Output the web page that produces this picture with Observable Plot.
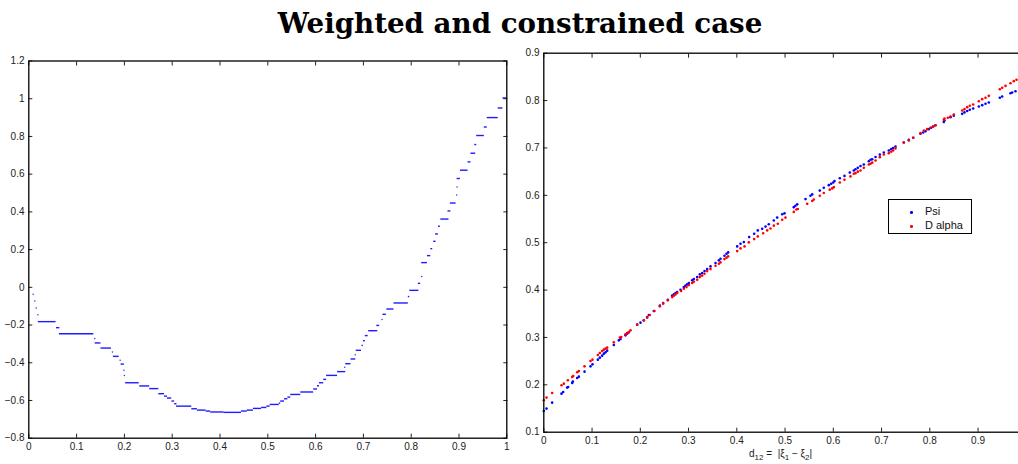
<!DOCTYPE html>
<html><head><meta charset="utf-8">
<script src="https://cdn.jsdelivr.net/npm/d3@7"></script>
<script src="https://cdn.jsdelivr.net/npm/@observablehq/plot@0.6"></script>
<style>
html,body{margin:0;padding:0;background:#fff;overflow:hidden}
#wrap{position:relative;width:1018px;height:464px;overflow:hidden;background:#fff}
#title{position:absolute;left:0;top:7px;width:1040px;text-align:center;font-family:"DejaVu Serif",serif;font-weight:bold;font-size:27.7px;color:#000;white-space:nowrap}
#left{position:absolute;left:0;top:40px;width:510px;height:424px}
#right{position:absolute;left:510px;top:40px;width:520px;height:424px}
#left svg,#right svg{max-width:none !important}
#xlabel{position:absolute;left:749px;top:448px;font-family:"Liberation Sans",Arial,sans-serif;font-size:10px;color:#222;white-space:nowrap}
#xlabel sub{font-size:8px;vertical-align:-3px;line-height:0}
#legend{position:absolute;left:888px;top:199px;width:82px;height:33px;border:1.3px solid #000;background:#fff;font-family:"Liberation Sans",Arial,sans-serif;font-size:11px;color:#111}
.li{position:absolute;left:36px}
.ld{position:absolute;left:21px;width:2.6px;height:2.6px;border-radius:50%}
</style></head>
<body><div id="wrap">
<div id="title">Weighted and constrained case</div>
<div id="left"></div>
<div id="right"></div>
<div id="xlabel">d<sub>12</sub> = &nbsp;|ξ<sub>1</sub> − ξ<sub>2</sub>|</div>
<div id="legend"></div>
</div>
<script>
// ---------- Left panel data ----------
const leftXTicks = [0,0.1,0.2,0.3,0.4,0.5,0.6,0.7,0.8,0.9,1];
const leftXLabels = ["0","0.1","0.2","0.3","0.4","0.5","0.6","0.7","0.8","0.9","1"];
const leftYTicks = [-0.8,-0.6,-0.4,-0.2,0,0.2,0.4,0.6,0.8,1,1.2];
const leftYLabels = ["−0.8","−0.6","−0.4","−0.2","0","0.2","0.4","0.6","0.8","1","1.2"];

// staircase pieces: start x, end x, level
const segX1 = [0.020,0.058,0.064,0.139,0.151,0.177,0.193,0.2025,0.232,0.253,0.272,0.284,0.290,0.2995,0.305,0.309,0.341,0.353,0.371,0.3805,0.408,0.445,0.457,0.470,0.487,0.498,0.505,0.524,0.527,0.535,0.542,0.548,0.569,0.596,0.604,0.608,0.617,0.623,0.646,0.663,0.674,0.685,0.697,0.700,0.704,0.711,0.728,0.741,0.749,0.764,0.794,0.797,0.815,0.822,0.834,0.841,0.847,0.851,0.857,0.862,0.877,0.882,0.896,0.903,0.919,0.925,0.933,0.937,0.953,0.959,0.982,0.992];
const segX2 = [0.057,0.065,0.136,0.151,0.173,0.189,0.200,0.231,0.253,0.272,0.284,0.290,0.299,0.305,0.310,0.341,0.353,0.371,0.3805,0.408,0.445,0.457,0.470,0.487,0.498,0.505,0.524,0.527,0.535,0.542,0.548,0.569,0.596,0.604,0.608,0.617,0.623,0.646,0.663,0.674,0.684,0.696,0.700,0.704,0.710,0.730,0.734,0.748,0.764,0.794,0.797,0.816,0.820,0.834,0.841,0.845,0.852,0.857,0.861,0.879,0.883,0.894,0.903,0.919,0.925,0.935,0.937,0.953,0.959,0.982,0.992,1.000];
const segY  = [-0.182,-0.214,-0.246,-0.295,-0.322,-0.366,-0.407,-0.506,-0.523,-0.537,-0.564,-0.577,-0.587,-0.603,-0.617,-0.630,-0.644,-0.651,-0.656,-0.661,-0.663,-0.656,-0.651,-0.642,-0.637,-0.630,-0.621,-0.614,-0.603,-0.591,-0.582,-0.568,-0.555,-0.539,-0.522,-0.506,-0.488,-0.467,-0.447,-0.405,-0.380,-0.334,-0.308,-0.283,-0.256,-0.230,-0.202,-0.143,-0.115,-0.083,-0.049,-0.016,0.021,0.131,0.168,0.205,0.244,0.283,0.324,0.362,0.405,0.447,0.577,0.621,0.665,0.711,0.757,0.805,0.850,0.900,0.951,1.004];
// isolated points
const dotLX = [0.009,0.0126,0.0155,0.019,0.138,0.175,0.191,0.199,0.200,0.661,0.683,0.739,0.822,0.895,0.896];
const dotLY = [-0.037,-0.073,-0.110,-0.145,-0.272,-0.343,-0.387,-0.440,-0.467,-0.424,-0.357,-0.171,0.058,0.490,0.532];

// ---------- Right panel data ----------
const rightXTicks = [0,0.1,0.2,0.3,0.4,0.5,0.6,0.7,0.8,0.9];
const rightXLabels = ["0","0.1","0.2","0.3","0.4","0.5","0.6","0.7","0.8","0.9"];
const rightYTicks = [0.1,0.2,0.3,0.4,0.5,0.6,0.7,0.8,0.9];
const rightYLabels = ["0.1","0.2","0.3","0.4","0.5","0.6","0.7","0.8","0.9"];

const psiX = [0.000,0.0056,0.0173,0.0367,0.0401,0.0484,0.0505,0.0588,0.0602,0.0692,0.0726,0.0844,0.0968,0.1009,0.112,0.1161,0.121,0.1244,0.1279,0.1313,0.1451,0.1555,0.159,0.1693,0.1728,0.1762,0.1935,0.2004,0.2073,0.2142,0.2177,0.228,0.2405,0.2474,0.2571,0.266,0.2695,0.273,0.2764,0.2833,0.2902,0.2937,0.2971,0.3006,0.3075,0.3109,0.3179,0.3234,0.3282,0.3331,0.3386,0.3455,0.3559,0.3628,0.3662,0.3745,0.3787,0.3821,0.4008,0.4077,0.4146,0.4256,0.436,0.4435,0.4526,0.4595,0.4663,0.4767,0.4837,0.4941,0.4989,0.5181,0.5216,0.5252,0.5424,0.5527,0.5563,0.572,0.5803,0.5907,0.5956,0.5998,0.6025,0.6135,0.6232,0.6342,0.6425,0.646,0.6508,0.6564,0.6632,0.6736,0.6771,0.6806,0.6875,0.6964,0.7047,0.715,0.72,0.7241,0.7289,0.7461,0.7565,0.7656,0.7807,0.7863,0.7911,0.7979,0.8029,0.807,0.8118,0.829,0.8304,0.8429,0.8497,0.8671,0.8719,0.8775,0.8829,0.8899,0.9016,0.9086,0.9154,0.9223,0.9451,0.95,0.9672,0.9707,0.9776];
const psiY = [0.1447,0.1498,0.1624,0.1814,0.1848,0.1941,0.1954,0.2038,0.2068,0.2144,0.2173,0.2278,0.239,0.2432,0.2531,0.2574,0.2616,0.2658,0.2686,0.2721,0.284,0.2939,0.2966,0.3044,0.308,0.3108,0.327,0.3312,0.3361,0.343,0.3473,0.3557,0.3671,0.3726,0.3797,0.3882,0.3909,0.3937,0.3958,0.4008,0.4063,0.4093,0.412,0.4148,0.4205,0.4232,0.4274,0.4331,0.4359,0.4401,0.4443,0.45,0.457,0.4627,0.4662,0.4726,0.4768,0.4795,0.4922,0.4979,0.5013,0.5118,0.519,0.526,0.5295,0.534,0.539,0.547,0.553,0.560,0.562,0.575,0.578,0.581,0.592,0.599,0.602,0.610,0.616,0.6215,0.6245,0.627,0.630,0.636,0.641,0.648,0.6525,0.655,0.658,0.662,0.665,0.672,0.675,0.676,0.681,0.686,0.6905,0.6947,0.6975,0.700,0.703,0.7116,0.717,0.7215,0.730,0.7327,0.7354,0.7397,0.7426,0.7454,0.748,0.755,0.758,0.765,0.768,0.772,0.775,0.778,0.7806,0.7833,0.7876,0.7903,0.7932,0.796,0.806,0.8086,0.8156,0.817,0.8198];

const dalphaX = [0.000,0.0056,0.0173,0.0367,0.0415,0.0498,0.0588,0.0609,0.0692,0.0726,0.0844,0.0968,0.1009,0.112,0.1161,0.121,0.1244,0.1279,0.1313,0.1451,0.1576,0.1604,0.1693,0.1728,0.1762,0.1797,0.1935,0.2073,0.2142,0.2197,0.2294,0.2405,0.2474,0.2571,0.266,0.2695,0.273,0.2764,0.2847,0.2902,0.2958,0.3006,0.3075,0.3109,0.3179,0.3234,0.3282,0.3331,0.3386,0.3455,0.3559,0.3628,0.3662,0.3745,0.3787,0.3821,0.4008,0.4077,0.416,0.4249,0.436,0.4435,0.4547,0.463,0.4698,0.4767,0.485,0.4941,0.5009,0.5181,0.5237,0.5264,0.5459,0.5563,0.5596,0.572,0.5803,0.5927,0.5977,0.601,0.6135,0.6232,0.6356,0.6425,0.646,0.6508,0.6564,0.6632,0.6736,0.6771,0.6806,0.6875,0.6964,0.7047,0.715,0.72,0.7241,0.7289,0.7461,0.7565,0.7656,0.7807,0.7876,0.7946,0.8014,0.807,0.8118,0.829,0.8304,0.8373,0.8429,0.8497,0.8671,0.8719,0.8775,0.8829,0.8899,0.9016,0.9086,0.9154,0.9223,0.9451,0.95,0.9569,0.9672,0.9741,0.9797];
const dalphaY = [0.1673,0.173,0.1827,0.199,0.2025,0.2095,0.2165,0.2186,0.2264,0.2291,0.239,0.2502,0.2531,0.2629,0.2671,0.2713,0.2742,0.2764,0.2785,0.2897,0.2996,0.3008,0.3065,0.3093,0.3114,0.315,0.327,0.3361,0.3418,0.3473,0.3557,0.3656,0.3713,0.3783,0.3852,0.3882,0.3909,0.3937,0.3979,0.4029,0.4063,0.4105,0.4148,0.4177,0.4219,0.4274,0.4304,0.4346,0.4401,0.4443,0.4515,0.4557,0.4584,0.4654,0.4684,0.4711,0.4823,0.488,0.4922,0.5006,0.5076,0.5133,0.520,0.526,0.530,0.536,0.540,0.5485,0.553,0.565,0.570,0.571,0.582,0.588,0.591,0.599,0.605,0.612,0.6146,0.6173,0.627,0.633,0.640,0.6456,0.6468,0.650,0.6525,0.658,0.665,0.6667,0.669,0.6736,0.6806,0.6863,0.689,0.692,0.6947,0.699,0.7116,0.7158,0.7215,0.7312,0.7369,0.7397,0.7426,0.7454,0.748,0.7595,0.7622,0.7637,0.7665,0.7707,0.7791,0.7819,0.7861,0.789,0.7918,0.7987,0.803,0.8059,0.810,0.824,0.827,0.831,0.8367,0.841,0.844];

const legendNames = ["Psi","D alpha"];
const seriesColors = ["#0000ff","#ff0000"];

// ---------- build tables ----------
const leftSegs = segY.map((y,i)=>({x1:segX1[i], x2:segX2[i], y}));
const leftDots = dotLY.map((y,i)=>({x:dotLX[i], y}));
const psi = psiX.map((x,i)=>({x, y:psiY[i]}));
const dalpha = dalphaX.map((x,i)=>({x, y:dalphaY[i]}));

const fmt = (ticks, labels) => d => { const i = ticks.findIndex(t => Math.abs(t-d) < 1e-9); return i >= 0 ? labels[i] : ""; };
const style = {fontFamily:"'Liberation Sans', Arial, sans-serif", fontSize:"10px", color:"#222", background:"transparent", overflow:"visible", maxWidth:"none"};

const leftPlot = Plot.plot({
  width: 510, height: 424,
  marginLeft: 28.3, marginRight: 3.7, marginTop: 20.5, marginBottom: 26.3,
  x: {domain:[0,1]}, y: {domain:[-0.8,1.2]},
  style,
  marks: [
    Plot.ruleY(leftSegs, {x1:"x1", x2:"x2", y:"y", stroke:"#1010ff", strokeWidth:1.4, strokeOpacity:0.95}),
    Plot.dot(leftDots, {x:"x", y:"y", r:0.75, fill:"#3030ff"}),
    Plot.axisX({ticks:leftXTicks, tickSize:-4, tickPadding:9, tickFormat:fmt(leftXTicks,leftXLabels), label:null}),
    Plot.axisX({anchor:"top", ticks:leftXTicks, tickSize:-4, tickFormat:()=>"", label:null}),
    Plot.axisY({ticks:leftYTicks, tickSize:-4, tickPadding:8.3, tickFormat:fmt(leftYTicks,leftYLabels), label:null}),
    Plot.axisY({anchor:"right", ticks:leftYTicks, tickSize:-4, tickFormat:()=>"", label:null}),
    Plot.frame({stroke:"#000", strokeWidth:1.3})
  ]
});
document.getElementById("left").append(leftPlot);

const rightPlot = Plot.plot({
  width: 520, height: 424,
  marginLeft: 33.3, marginRight: 4.2, marginTop: 12.7, marginBottom: 32.3,
  x: {domain:[0,1]}, y: {domain:[0.1,0.9]},
  style,
  marks: [
    Plot.dot(psi, {x:"x", y:"y", r:1.3, fill:seriesColors[0]}),
    Plot.dot(dalpha, {x:"x", y:"y", r:1.3, fill:seriesColors[1]}),
    Plot.axisX({ticks:rightXTicks, tickSize:-4, tickPadding:9, tickFormat:fmt(rightXTicks,rightXLabels), label:null}),
    Plot.axisX({anchor:"top", ticks:rightXTicks, tickSize:-4, tickFormat:()=>"", label:null}),
    Plot.axisY({ticks:rightYTicks, tickSize:-4, tickPadding:8.3, tickFormat:fmt(rightYTicks,rightYLabels), label:null}),
    Plot.frame({stroke:"#000", strokeWidth:1.3})
  ]
});
document.getElementById("right").append(rightPlot);

// legend
const lg = document.getElementById("legend");
legendNames.forEach((name,i)=>{
  const top = 5 + i*14;
  const d = document.createElement("div"); d.className="ld"; d.style.top=(top+6)+"px"; d.style.background=seriesColors[i]; lg.append(d);
  const t = document.createElement("div"); t.className="li"; t.style.top=top+"px"; t.textContent=name; lg.append(t);
});
</script>
</body></html>
